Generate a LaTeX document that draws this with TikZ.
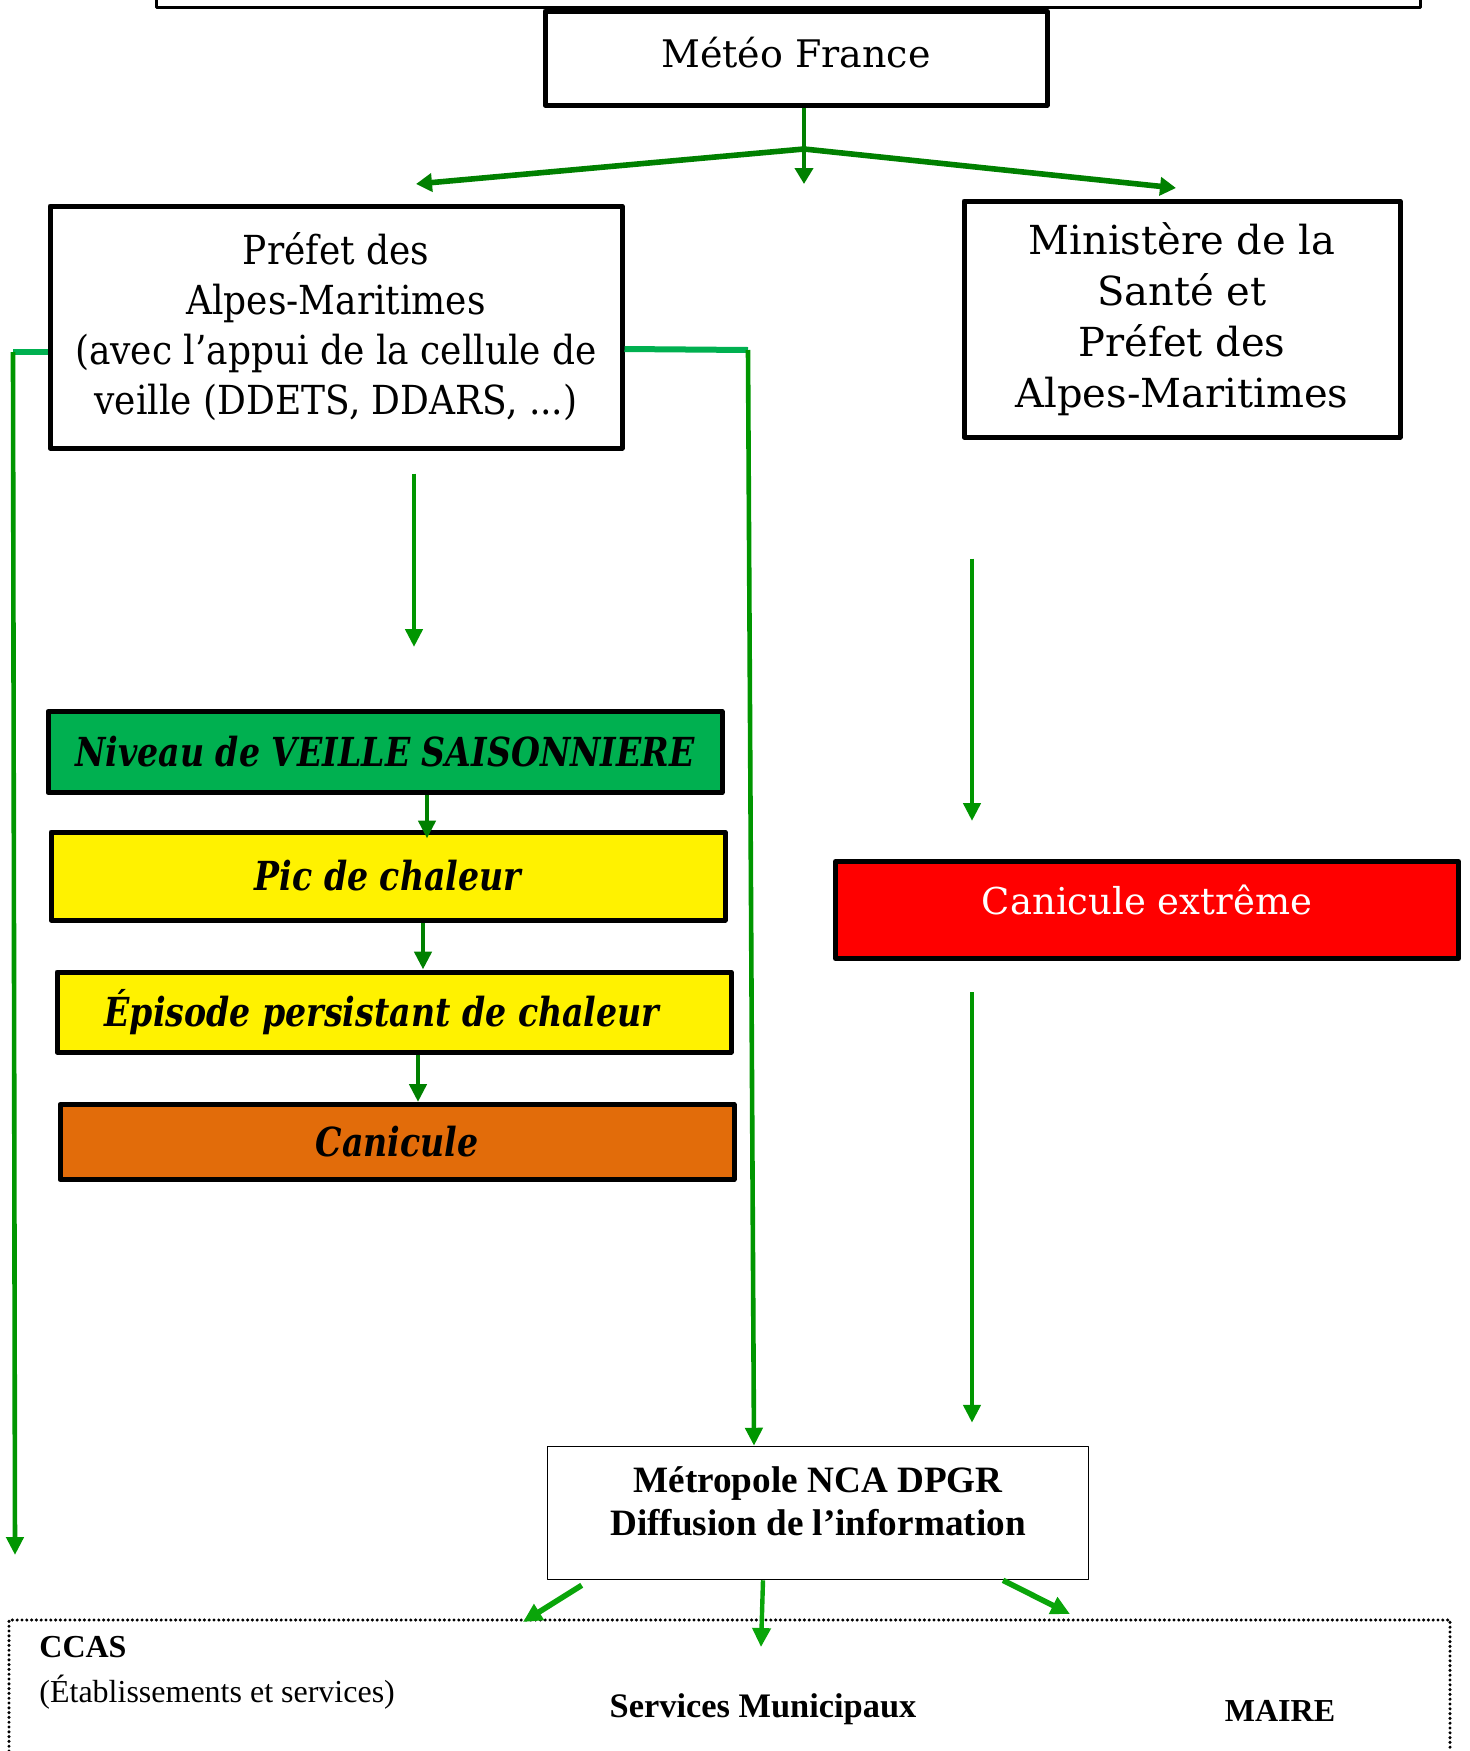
\documentclass[tikz,border=0pt]{standalone}
\usepackage{fontspec}
\setmainfont{DejaVu Serif}
\newfontfamily\prefetfont[FakeStretch=0.9]{DejaVu Serif}
\newfontfamily\niveaufont[FakeStretch=0.83]{DejaVu Serif}
\newfontfamily\timesfont{Liberation Serif}
\usetikzlibrary{arrows.meta}
\definecolor{hautvert}{RGB}{0,128,0}
\definecolor{flechevert}{RGB}{0,150,0}
\definecolor{liaisonvert}{RGB}{0,176,80}
\definecolor{basvert}{RGB}{10,165,10}
\definecolor{veillevert}{RGB}{0,176,80}
\definecolor{caniorange}{RGB}{226,108,10}
\tikzset{
  boite/.style={draw=black, line width=2.5pt, inner sep=0pt, align=center},
  niveau/.style={boite, font=\niveaufont\fontsize{20}{24}\selectfont\bfseries\itshape, minimum width=337pt},
  fleche/.style={draw=flechevert, line width=2.3pt, -{Triangle[length=9pt,width=8.5pt]}},
  grosse/.style={draw=hautvert, line width=2.8pt, -{Triangle[length=8pt,width=9pt]}},
  liaison/.style={draw=liaisonvert, line width=3pt},
  basfleche/.style={draw=basvert, line width=2.8pt, -{Triangle[length=9.5pt,width=9pt]}},
  texte/.style={font=\timesfont\fontsize{16}{19}\selectfont, inner sep=0pt}
}
\begin{document}
\begin{tikzpicture}[x=0.5pt, y=-0.5pt, line join=round]
\useasboundingbox (0,0) rectangle (1469,1751);
% cadre du haut
\draw[line width=1.5pt] (156,0) -- (156,7) -- (1420,7) -- (1420,0);
% les boites
\node[boite, minimum width=251pt, minimum height=47pt, font=\fontsize{19}{23}\selectfont] (meteo) at (796,58) {Météo France\\[-17.4pt]};
\node[boite, minimum width=286pt, minimum height=121pt, font=\prefetfont\fontsize{20}{25}\selectfont] (prefet) at (336,327)
  {Préfet des\\Alpes-Maritimes\\(avec l’appui de la cellule de\\veille (DDETS, DDARS, ...)};
\node[boite, minimum width=218pt, minimum height=118pt, font=\fontsize{20}{25.5}\selectfont] (ministere) at (1182,319)
  {Ministère de la\\Santé et\\Préfet des\\Alpes-Maritimes};
\node[niveau, fill=veillevert, minimum height=40.5pt] (veille) at (385,752) {Niveau de VEILLE SAISONNIERE};
\node[niveau, fill=yellow, minimum height=44pt] (pic) at (388,876) {Pic de chaleur};
\node[niveau, fill=yellow, minimum height=40pt] (episode) at (394,1012) {Épisode persistant de chaleur\hspace*{12pt}};
\node[niveau, fill=caniorange, minimum height=37.5pt] (canicule) at (397,1142) {Canicule};
\node[boite, fill=red, text=white, minimum width=311.5pt, minimum height=48.5pt, font=\fontsize{18.5}{22}\selectfont] (extreme) at (1147,910) {Canicule extrême\\[-12pt]};
\node[draw=black, line width=0.75pt, minimum width=270.5pt, minimum height=66.5pt, align=center,
  font=\timesfont\bfseries\fontsize{18.6}{21.5}\selectfont] (metropole) at (818,1513)
  {Métropole NCA DPGR\\Diffusion de l’information\\[-10pt]};
% cadre pointille du bas
\draw[line width=1.7pt, line cap=round, dash pattern=on 0pt off 2.4pt] (9,1751) -- (9,1620) -- (1450,1620) -- (1450,1751);
\node[texte, font=\timesfont\bfseries\fontsize{16}{19}\selectfont, anchor=west] (ccas) at (39,1647) {CCAS};
\node[texte, anchor=west] (etab) at (39,1692) {(Établissements et services)};
\node[texte, font=\timesfont\bfseries\fontsize{17.2}{20}\selectfont] (services) at (763,1709) {Services Municipaux};
\node[texte, font=\timesfont\bfseries\fontsize{16}{19}\selectfont] (maire) at (1280,1711) {MAIRE};
% depart de Meteo France
\coordinate (split) at (804,149);
\coordinate (versprefet) at (416,184);
\coordinate (versmin) at (1176,188);
\draw[hautvert, line width=2.2pt] ([xshift=4pt]meteo.south) -- (split);
\draw[grosse, line width=2.2pt] (split) -- ([xshift=4pt]meteo.south |- versprefet);
\draw[grosse] (split) -- (versprefet);
\draw[grosse] (split) -- (versmin);
% liaisons du prefet vers la metropole
\coordinate (coingauche) at (13,352);
\coordinate (bordgauche) at (15,1555);
\coordinate (coindroit) at (748,350);
\draw[liaison] ([yshift=-12.5pt]prefet.west) -- (coingauche);
\draw[fleche] (coingauche) -- (bordgauche);
\draw[liaison] ([yshift=-11pt]prefet.east) -- (coindroit);
\draw[fleche] (coindroit) -- ([xshift=-32pt]metropole.north);
% fleches vers les niveaux
\draw[fleche, shorten <=11.5pt, shorten >=31pt] ([xshift=39pt]prefet.south) -- ([xshift=39pt]prefet.south |- veille.north);
\draw[fleche, shorten <=59.5pt, shorten >=19pt] ([xshift=-105pt]ministere.south) -- ([xshift=-105pt]ministere.south |- extreme.north);
\draw[fleche, shorten <=15.5pt, shorten >=11.5pt] ([xshift=-87.5pt]extreme.south) -- ([xshift=-87.5pt]extreme.south |- metropole.north);
\draw[fleche, hautvert, shorten >=-4.5pt] ([xshift=21pt]veille.south) -- ([xshift=21pt]veille.south |- pic.north);
\draw[fleche, hautvert] ([xshift=17.5pt]pic.south) -- ([xshift=17.5pt]pic.south |- episode.north);
\draw[fleche, hautvert] ([xshift=12pt]episode.south) -- ([xshift=12pt]episode.south |- canicule.north);
% diffusion vers les communes
\coordinate (versccas) at (523,1622);
\coordinate (versservices) at (761,1647);
\coordinate (versmaire) at (1070,1614);
\draw[basfleche] ([xshift=17.5pt, yshift=-2.5pt]metropole.south west) -- (versccas);
\draw[basfleche, line width=2.2pt] ([xshift=-27.5pt]metropole.south) -- (versservices);
\draw[basfleche] ([xshift=92.5pt]metropole.south) -- (versmaire);
\end{tikzpicture}
\end{document}
